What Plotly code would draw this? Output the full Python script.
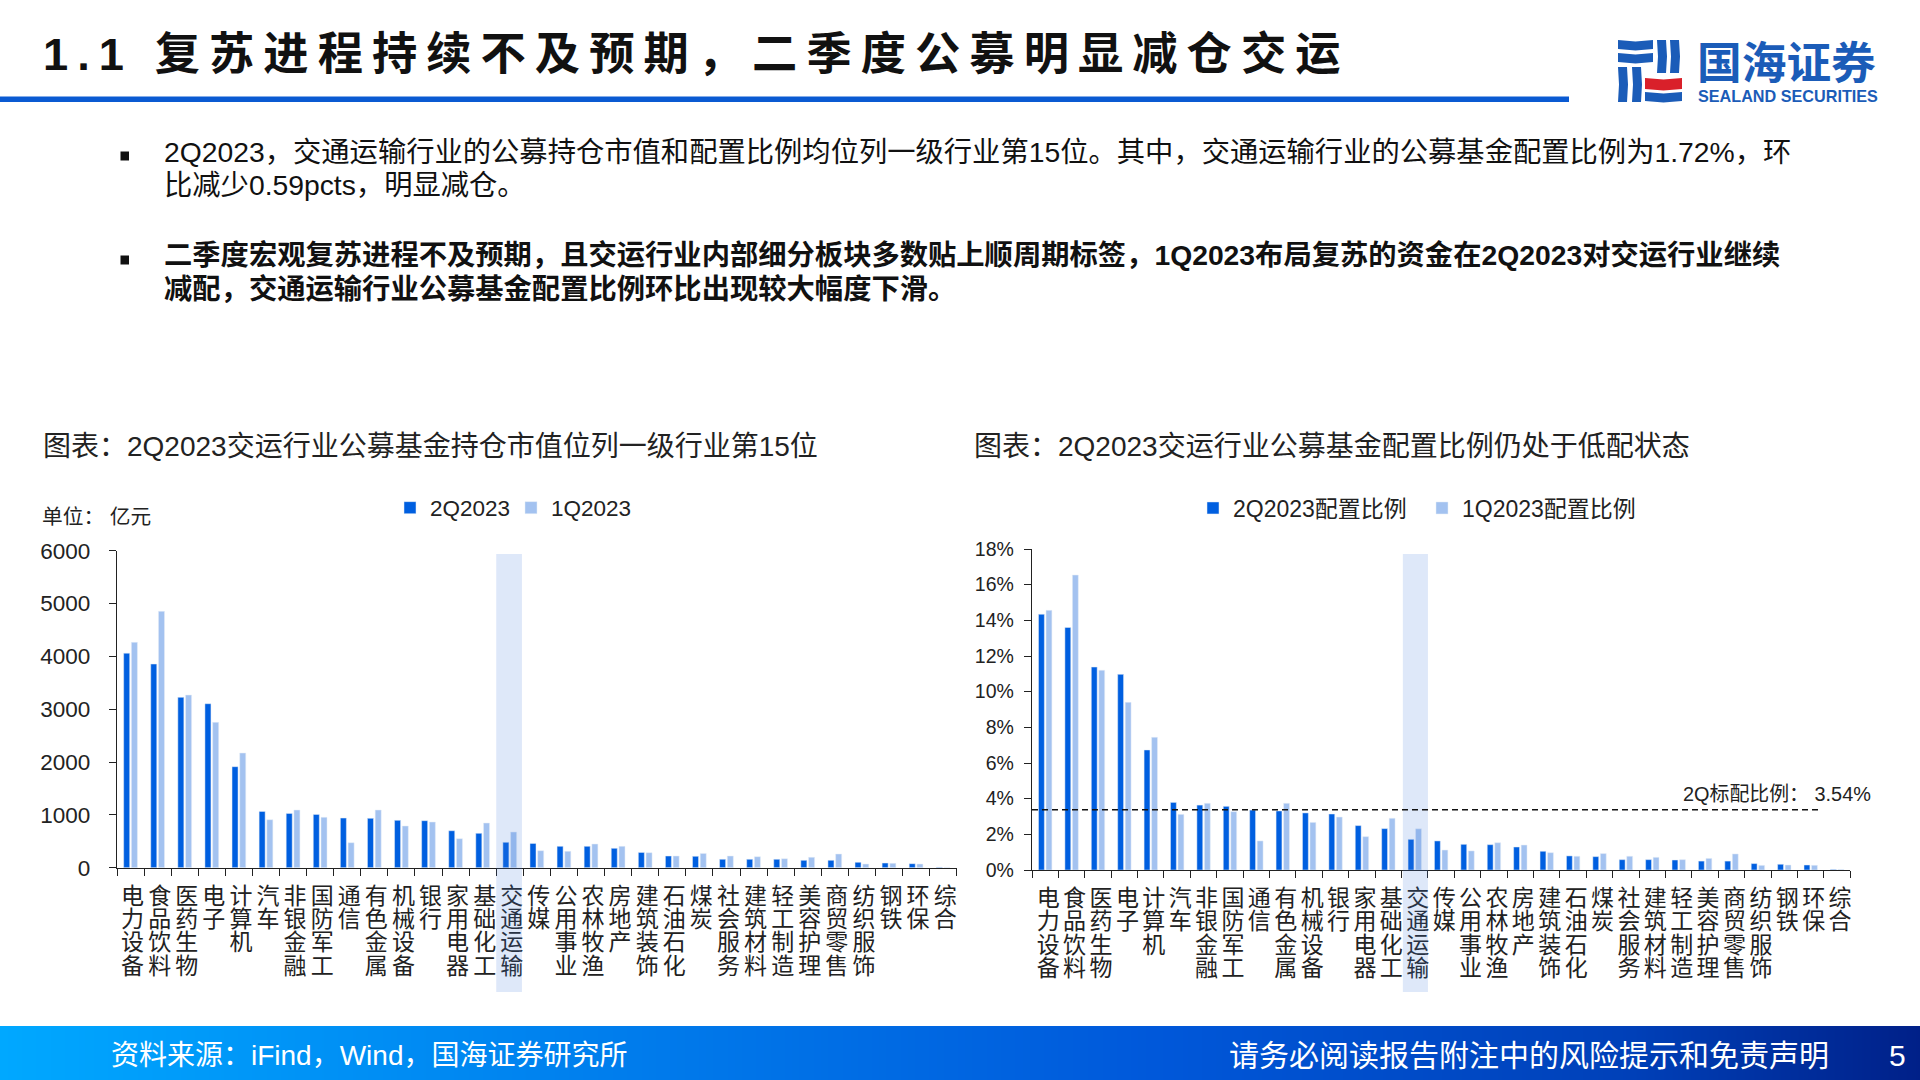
import plotly.graph_objects as go

W, H = 1920, 1080
CJK = "Liberation Sans, Noto Sans CJK SC"

industries = ["电力设备","食品饮料","医药生物","电子","计算机","汽车","非银金融","国防军工","通信","有色金属",
              "机械设备","银行","家用电器","基础化工","交通运输","传媒","公用事业","农林牧渔","房地产","建筑装饰",
              "石油石化","煤炭","社会服务","建筑材料","轻工制造","美容护理","商贸零售","纺织服饰","钢铁","环保","综合"]
cap_2q = [4060,3855,3224,3104,1912,1066,1028,1009,940,934,896,890,700,650,480,460,404,404,366,290,221,215,158,158,158,139,139,101,88,76,8]
cap_1q = [4265,4852,3268,2751,2170,908,1091,953,473,1091,789,864,549,845,675,322,309,448,404,284,221,271,221,208,170,196,259,69,82,69,6]
wt_2q = [14.34,13.6,11.38,10.97,6.73,3.79,3.64,3.57,3.36,3.31,3.2,3.14,2.49,2.32,1.72,1.63,1.44,1.42,1.29,1.05,0.79,0.75,0.58,0.58,0.56,0.5,0.5,0.36,0.32,0.28,0.03]
wt_1q = [14.56,16.54,11.2,9.4,7.44,3.12,3.74,3.27,1.63,3.74,2.67,2.97,1.87,2.9,2.31,1.12,1.07,1.53,1.4,0.97,0.77,0.92,0.77,0.71,0.58,0.65,0.9,0.26,0.28,0.26,0.03]
benchmark_drawn = 3.38
cap_ticks = [0,1000,2000,3000,4000,5000,6000]
wt_ticks = [0,2,4,6,8,10,12,14,16,18]
wt_tick_labels = ["0%","2%","4%","6%","8%","10%","12%","14%","16%","18%"]
highlight = "交通运输"

DARK = "#005FE0"
LIGHT = "#A3C2F0"
AXIS = "#222222"

def px(x): return x / W
def py(y): return 1 - y / H

def vert(name, size=23):
    return "<br>".join(f"<span style='font-size:{size}px'>{c}</span>" for c in name)

fig = go.Figure()
fig.add_bar(x=industries, y=cap_2q, name="2Q2023", marker_color=DARK, xaxis="x", yaxis="y", legend="legend")
fig.add_bar(x=industries, y=cap_1q, name="1Q2023", marker_color=LIGHT, xaxis="x", yaxis="y", legend="legend")
fig.add_bar(x=industries, y=wt_2q, name="2Q2023配置比例", marker_color=DARK, xaxis="x2", yaxis="y2", legend="legend2")
fig.add_bar(x=industries, y=wt_1q, name="1Q2023配置比例", marker_color=LIGHT, xaxis="x2", yaxis="y2", legend="legend2")

# footer gradient
n = 240
fig.add_heatmap(x=list(range(n)), y=[0, 1], z=[list(range(n)), list(range(n))], xaxis="x3", yaxis="y3",
                showscale=False, hoverinfo="skip", zsmooth="best",
                colorscale=[[0, "#00A8FF"], [0.3, "#0080EE"], [0.6, "#0058DA"], [0.85, "#0040B8"], [1, "#002088"]])

xcommon = dict(type="category", categoryorder="array", categoryarray=industries, tickmode="array",
               tickvals=industries, ticktext=[vert(s) for s in industries], tickson="boundaries",
               ticks="outside", ticklen=7, tickwidth=1.3, tickcolor=AXIS, showline=True, linecolor=AXIS, linewidth=1.4,
               showgrid=False, zeroline=False, tickangle=0, range=[-0.5, 30.5], ticklabelstandoff=13,
               tickfont=dict(family=CJK, size=18, color="#222"))
ycommon = dict(ticks="outside", ticklen=7, tickwidth=1.3, tickcolor=AXIS, showline=True, linecolor=AXIS, linewidth=1.4,
               showgrid=False, zeroline=False, tickmode="array")

layout = dict(
    width=W, height=H, autosize=False, margin=dict(l=0, r=0, t=0, b=0, autoexpand=False), paper_bgcolor="white", plot_bgcolor="white",
    barmode="group", bargap=0.43, bargroupgap=0.22, font=dict(family=CJK, color="#222"),
    xaxis=dict(domain=[px(117), px(956.7)], anchor="y", ticklabelshift=2, **xcommon),
    yaxis=dict(domain=[py(867.7), py(550.7)], anchor="x", range=[0, 6000], tickvals=cap_ticks,
               tickfont=dict(family=CJK, size=22.5, color="#222"), ticklabelstandoff=14, **ycommon),
    xaxis2=dict(domain=[px(1032), px(1850.3)], anchor="y2", ticklabelshift=3, **xcommon),
    yaxis2=dict(domain=[py(870), py(549)], anchor="x2", range=[0, 18], tickvals=wt_ticks, ticktext=wt_tick_labels,
                tickfont=dict(family=CJK, size=19.5, color="#222"), ticklabelstandoff=6, **ycommon),
    xaxis3=dict(domain=[0, 1], anchor="y3", visible=False, range=[0, n - 1], fixedrange=True),
    yaxis3=dict(domain=[0, py(1026)], anchor="x3", visible=False, range=[0, 1], fixedrange=True),
    legend=dict(orientation="h", x=px(390), y=py(508), xanchor="left", yanchor="middle", bgcolor="rgba(0,0,0,0)",
                font=dict(family=CJK, size=22.5, color="#222"), traceorder="normal", entrywidth=76, entrywidthmode="pixels"),
    legend2=dict(orientation="h", x=px(1193), y=py(508), xanchor="left", yanchor="middle", bgcolor="rgba(0,0,0,0)",
                 font=dict(family=CJK, size=23, color="#222"), traceorder="normal", entrywidth=184, entrywidthmode="pixels"),
)
fig.update_layout(**layout)

def txt(x, y, s, size, color="#111", anchor="left", bold=False, family=CJK):
    t = f"<b>{s}</b>" if bold else s
    fig.add_annotation(xref="paper", yref="paper", x=px(x), y=py(y), text=t, showarrow=False, xanchor=anchor,
                       yanchor="middle", font=dict(size=size, color=color, family=family), align="left", borderpad=0)

sp = "\u2009"
title = "1.1 复苏进程持续不及预期，二季度公募明显减仓交运"
txt(42, 54, sp.join(title), 45.25, "#111", bold=True)

for by in (156, 260):
    fig.add_shape(type="rect", xref="paper", yref="paper", x0=px(120.5), x1=px(129), y0=py(by + 4.5), y1=py(by - 4.5),
                  fillcolor="#111", line_width=0)
txt(163, 152, "2Q2023，交通运输行业的公募持仓市值和配置比例均位列一级行业第15位。其中，交通运输行业的公募基金配置比例为1.72%，环", 28.3)
txt(163, 185, "比减少0.59pcts，明显减仓。", 28.3)
txt(163, 255, "二季度宏观复苏进程不及预期，且交运行业内部细分板块多数贴上顺周期标签，1Q2023布局复苏的资金在2Q2023对交运行业继续", 28.3, bold=True)
txt(163, 289, "减配，交通运输行业公募基金配置比例环比出现较大幅度下滑。", 28.3, bold=True)

txt(42, 447, "图表：2Q2023交运行业公募基金持仓市值位列一级行业第15位", 28, "#222")
txt(973, 447, "图表：2Q2023交运行业公募基金配置比例仍处于低配状态", 28, "#222")
txt(41, 517, "单位： 亿元", 20.7, "#222")
txt(1682, 794, "2Q标配比例： 3.54%", 19.9, "#222")

txt(110, 1055.5, "资料来源：iFind，Wind，国海证券研究所", 28, "white")
txt(1228, 1055.5, "请务必阅读报告附注中的风险提示和免责声明", 30, "white")
txt(1897, 1055.5, "5", 30, "white", anchor="center")

# logo
BLUE = "#1B5CB8"
txt(1696, 63, "国海证券", 44.7, BLUE, bold=True)
txt(1697, 96, "SEALAND SECURITIES", 16.2, BLUE, bold=True)

def path(points):
    return "M" + " L".join(f"{px(x):.5f},{py(y):.5f}" for x, y in points) + " Z"

def logo(x0, y0, x1, y1, color, wave):
    if wave == "h":
        m = (x0 + x1) / 2
        pts = [(x0, y0), (m, y0 + 1.4), (x1, y0), (x1, y1), (m, y1 + 1.4), (x0, y1)]
    else:
        m = (y0 + y1) / 2
        pts = [(x0, y0), (x1, y0), (x1 + 1, m), (x1, y1), (x0, y1), (x0 + 1, m)]
    fig.add_shape(type="path", xref="paper", yref="paper", path=path(pts), fillcolor=color, line_width=0)

for b in [(1618, 40, 1653, 49), (1618, 53, 1653, 62)]:
    logo(*b, BLUE, "h")
for b in [(1618, 67, 1627, 102), (1632, 67, 1641, 102), (1657, 40, 1666, 73), (1670, 40, 1679, 73)]:
    logo(*b, BLUE, "v")
logo(1645, 78, 1682, 89, "#D9202A", "h")
logo(1645, 92, 1682, 101, BLUE, "h")

# header rule
fig.add_shape(type="rect", xref="paper", yref="paper", x0=0, x1=px(1569), y0=py(102), y1=py(96.5),
              fillcolor="#0A5AD2", line_width=0)

# highlight bands and benchmark
i_h = industries.index(highlight)
fig.add_shape(type="rect", xref="x", yref="paper", x0=i_h - 0.5, x1=i_h + 0.45, y0=py(992), y1=py(554),
              fillcolor="rgba(74,126,224,0.18)", line_width=0, layer="above")
fig.add_shape(type="rect", xref="x2", yref="paper", x0=i_h - 0.45, x1=i_h + 0.5, y0=py(992), y1=py(554),
              fillcolor="rgba(74,126,224,0.18)", line_width=0, layer="above")
fig.add_shape(type="line", xref="x2", yref="y2", x0=-0.5, x1=29.3, y0=benchmark_drawn, y1=benchmark_drawn,
              line=dict(color="#111", width=1.6, dash="6px,4px"))

fig.write_html("out.html", config={"displayModeBar": False}, post_script="document.body.style.margin='0';")
